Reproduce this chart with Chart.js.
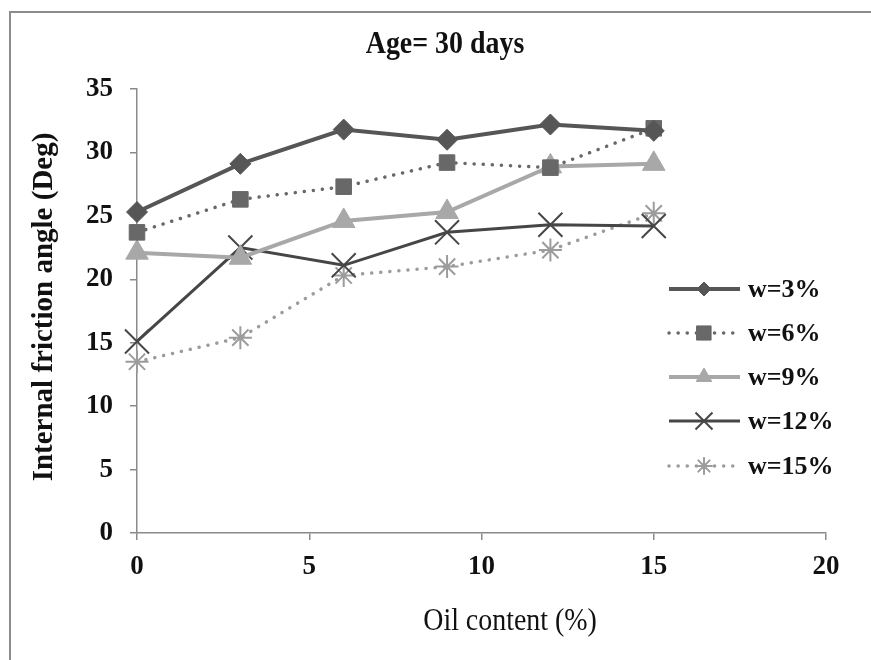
<!DOCTYPE html>
<html>
<head>
<meta charset="utf-8">
<script src="https://cdn.jsdelivr.net/npm/chart.js@4/dist/chart.umd.min.js"></script>
<style>
  html, body { margin: 0; padding: 0; background: #fff; }
  canvas { display: block; }
</style>
</head>
<body>
<canvas id="chart" width="871" height="660"></canvas>
<script>
// oil content (%) on the x axis
const oilContent = [0, 3, 6, 9, 12, 15];

// internal friction angle (deg) for each water content
const w3 = [25.3, 29.1, 31.8, 31.0, 32.2, 31.7];
const w6 = [23.7, 26.3, 27.3, 29.2, 28.8, 31.9];
const w9 = [22.1, 21.7, 24.6, 25.3, 28.9, 29.1];
const w12 = [15.1, 22.5, 21.1, 23.7, 24.3, 24.2];
const w15 = [13.5, 15.4, 20.3, 21.0, 22.3, 25.2];

const seriesLabels = ["w=3%", "w=6%", "w=9%", "w=12%", "w=15%"];
const xTicks = [0, 5, 10, 15, 20];
const yTicks = [0, 5, 10, 15, 20, 25, 30, 35];

const SERIF = "'Liberation Serif', 'DejaVu Serif', serif";
const AXIS_GREY = "#8a8a8a";

function toPoints(values) {
  return values.map((v, i) => ({ x: oilContent[i], y: v }));
}

function makeSeries(label, values, color, style) {
  return {
    label: label,
    data: toPoints(values),
    borderColor: color,
    backgroundColor: color,
    pointBackgroundColor: color,
    pointBorderColor: color,
    borderWidth: style.width,
    borderDash: style.dash || [],
    borderCapStyle: style.dash ? "round" : "butt",
    pointStyle: style.point,
    pointRadius: style.radius,
    pointBorderWidth: style.pointBorder || 1,
    legendRadius: style.legendRadius,
    tension: 0,
    fill: false,
    clip: false,
  };
}

const datasets = [
  makeSeries(seriesLabels[0], w3, "#565656", { width: 4, point: "rectRot", radius: 10.5, legendRadius: 7 }),
  makeSeries(seriesLabels[1], w6, "#686868", { width: 3.5, dash: [0.1, 9], point: "rect", radius: 11, legendRadius: 10 }),
  makeSeries(seriesLabels[2], w9, "#a8a8a8", { width: 4, point: "triangle", radius: 13, legendRadius: 9 }),
  makeSeries(seriesLabels[3], w12, "#464646", { width: 3, point: "crossRot", radius: 17, pointBorder: 2, legendRadius: 12 }),
  makeSeries(seriesLabels[4], w15, "#9c9c9c", { width: 3.5, dash: [0.1, 9], point: "star", radius: 11.5, pointBorder: 2, legendRadius: 8 }),
];

// frame, titles and the legend box drawn straight onto the canvas
const decorations = {
  id: "decorations",
  beforeDraw(chart) {
    const ctx = chart.ctx;
    ctx.save();
    ctx.fillStyle = "#fff";
    ctx.fillRect(0, 0, chart.width, chart.height);
    ctx.strokeStyle = "#8c8c8c";
    ctx.lineWidth = 2;
    ctx.strokeRect(10, 12, chart.width + 20, chart.height + 20);
    ctx.restore();
  },
  afterDraw(chart) {
    const ctx = chart.ctx;
    ctx.save();
    ctx.fillStyle = "#111";
    ctx.textAlign = "center";
    ctx.textBaseline = "middle";

    // chart title, slightly narrow
    ctx.save();
    ctx.translate(445, 45);
    ctx.scale(0.9, 1);
    ctx.font = "bold 31px " + SERIF;
    ctx.fillText("Age= 30 days", 0, 0);
    ctx.restore();

    // x axis title
    ctx.save();
    ctx.translate(510, 622);
    ctx.scale(0.9, 1);
    ctx.font = "31px " + SERIF;
    ctx.fillText("Oil content (%)", 0, 0);
    ctx.restore();

    // y axis title
    ctx.save();
    ctx.translate(45, 307);
    ctx.rotate(-Math.PI / 2);
    ctx.font = "bold 29px " + SERIF;
    ctx.fillText("Internal friction angle (Deg)", 0, 0);
    ctx.restore();

    // legend
    const rowY = [289, 333, 377, 421, 466];
    chart.data.datasets.forEach((ds, i) => {
      const y = rowY[i];
      ctx.save();
      ctx.strokeStyle = ds.borderColor;
      ctx.lineWidth = ds.borderWidth;
      ctx.lineCap = ds.borderCapStyle;
      ctx.setLineDash(ds.borderDash);
      ctx.beginPath();
      ctx.moveTo(669, y);
      ctx.lineTo(740, y);
      ctx.stroke();
      ctx.setLineDash([]);
      ctx.fillStyle = ds.pointBackgroundColor;
      ctx.strokeStyle = ds.pointBorderColor;
      ctx.lineWidth = ds.pointBorderWidth;
      Chart.helpers.drawPoint(ctx, {
        pointStyle: ds.pointStyle,
        radius: ds.legendRadius,
        borderWidth: ds.pointBorderWidth,
        rotation: 0,
      }, 704, y);
      ctx.restore();

      ctx.font = "bold 26px " + SERIF;
      ctx.textAlign = "left";
      ctx.fillStyle = "#111";
      ctx.fillText(ds.label, 748, y + 1);
    });
    ctx.restore();
  },
};

new Chart(document.getElementById("chart"), {
  type: "line",
  data: { datasets: datasets },
  options: {
    responsive: false,
    animation: false,
    layout: { padding: { left: 0, right: 45, top: 89, bottom: 0 } },
    plugins: {
      legend: { display: false },
      title: { display: false },
      tooltip: { enabled: false },
    },
    scales: {
      x: {
        type: "linear",
        min: 0,
        max: 20,
        afterFit: (scale) => { scale.height = 127; },
        afterBuildTicks: (scale) => { scale.ticks = xTicks.map((v) => ({ value: v })); },
        grid: { drawOnChartArea: false, drawTicks: true, tickLength: 7, color: AXIS_GREY, lineWidth: 1.5 },
        border: { color: AXIS_GREY, width: 1.5 },
        ticks: {
          color: "#111",
          padding: 11,
          maxRotation: 0,
          font: { family: SERIF, size: 27, weight: "bold" },
        },
      },
      y: {
        type: "linear",
        min: 0,
        max: 35,
        afterFit: (scale) => { scale.width = 137; },
        afterBuildTicks: (scale) => { scale.ticks = yTicks.map((v) => ({ value: v })); },
        grid: { drawOnChartArea: false, drawTicks: true, tickLength: 7, color: AXIS_GREY, lineWidth: 1.5 },
        border: { color: AXIS_GREY, width: 1.5 },
        ticks: {
          color: "#111",
          padding: 17,
          font: { family: SERIF, size: 27, weight: "bold" },
        },
      },
    },
  },
  plugins: [decorations],
});
</script>
</body>
</html>
